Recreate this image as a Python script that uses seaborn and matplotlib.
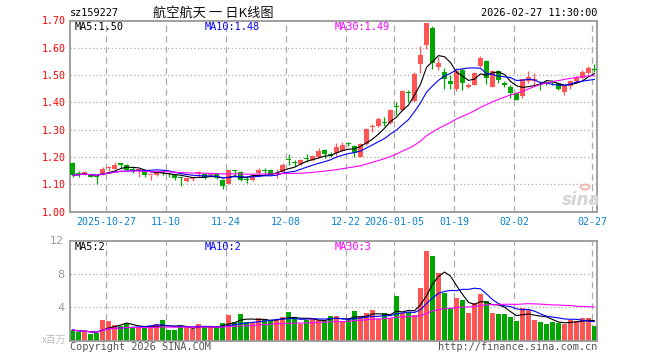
import numpy as np
import pandas as pd
import matplotlib
matplotlib.use("Agg")
import matplotlib.pyplot as plt
from matplotlib.patches import Circle
import seaborn as sns

# ---------------- data ----------------
opens = [1.178, 1.140, 1.139, 1.137, 1.132, 1.137, 1.158, 1.156, 1.174, 1.172,
         1.153, 1.150, 1.151, 1.132, 1.133, 1.144, 1.139, 1.134, 1.123, 1.110,
         1.118, 1.139, 1.138, 1.134, 1.137, 1.115, 1.102, 1.150, 1.146, 1.116,
         1.115, 1.140, 1.151, 1.152, 1.138, 1.146, 1.191, 1.178, 1.175, 1.193,
         1.188, 1.200, 1.224, 1.212, 1.216, 1.223, 1.249, 1.240, 1.201, 1.248,
         1.310, 1.314, 1.326, 1.326, 1.385, 1.373, 1.436, 1.404, 1.539, 1.612,
         1.671, 1.529, 1.513, 1.480, 1.450, 1.520, 1.457, 1.465, 1.535, 1.553,
         1.457, 1.515, 1.472, 1.457, 1.435, 1.425, 1.478, 1.477, 1.466, 1.473,
         1.474, 1.472, 1.437, 1.459, 1.478, 1.490, 1.506, 1.520]
highs = [1.181, 1.147, 1.147, 1.140, 1.135, 1.163, 1.165, 1.180, 1.176, 1.174,
         1.162, 1.156, 1.153, 1.135, 1.146, 1.149, 1.141, 1.137, 1.125, 1.124,
         1.128, 1.149, 1.140, 1.141, 1.140, 1.118, 1.153, 1.152, 1.148, 1.126,
         1.132, 1.160, 1.160, 1.155, 1.155, 1.177, 1.212, 1.190, 1.192, 1.210,
         1.206, 1.231, 1.228, 1.218, 1.250, 1.254, 1.256, 1.244, 1.250, 1.305,
         1.321, 1.345, 1.348, 1.375, 1.400, 1.445, 1.444, 1.510, 1.605, 1.690,
         1.680, 1.567, 1.527, 1.500, 1.526, 1.525, 1.470, 1.512, 1.570, 1.556,
         1.518, 1.517, 1.480, 1.465, 1.437, 1.484, 1.515, 1.506, 1.478, 1.480,
         1.482, 1.475, 1.462, 1.482, 1.498, 1.520, 1.535, 1.540]
lows = [1.125, 1.125, 1.132, 1.125, 1.102, 1.135, 1.148, 1.154, 1.159, 1.150,
        1.141, 1.127, 1.125, 1.116, 1.131, 1.133, 1.125, 1.116, 1.095, 1.108,
        1.110, 1.128, 1.118, 1.125, 1.118, 1.081, 1.100, 1.128, 1.112, 1.105,
        1.112, 1.138, 1.138, 1.132, 1.124, 1.144, 1.171, 1.165, 1.172, 1.180,
        1.185, 1.196, 1.195, 1.199, 1.205, 1.220, 1.240, 1.201, 1.198, 1.245,
        1.290, 1.310, 1.312, 1.322, 1.355, 1.370, 1.400, 1.400, 1.508, 1.595,
        1.523, 1.518, 1.449, 1.448, 1.443, 1.447, 1.452, 1.462, 1.530, 1.468,
        1.455, 1.472, 1.455, 1.416, 1.408, 1.416, 1.472, 1.465, 1.447, 1.462,
        1.463, 1.447, 1.428, 1.450, 1.470, 1.485, 1.503, 1.512]
closes = [1.132, 1.138, 1.141, 1.128, 1.125, 1.156, 1.160, 1.172, 1.172, 1.153,
          1.151, 1.152, 1.135, 1.134, 1.143, 1.142, 1.137, 1.122, 1.121, 1.122,
          1.120, 1.141, 1.122, 1.137, 1.121, 1.093, 1.152, 1.148, 1.115, 1.114,
          1.130, 1.152, 1.149, 1.134, 1.141, 1.171, 1.189, 1.176, 1.190, 1.191,
          1.203, 1.221, 1.209, 1.203, 1.238, 1.244, 1.247, 1.216, 1.247, 1.302,
          1.314, 1.339, 1.323, 1.371, 1.382, 1.440, 1.434, 1.505, 1.572, 1.690,
          1.545, 1.545, 1.484, 1.466, 1.515, 1.472, 1.465, 1.508, 1.562, 1.490,
          1.515, 1.481, 1.464, 1.435, 1.410, 1.484, 1.494, 1.486, 1.464, 1.471,
          1.471, 1.449, 1.459, 1.478, 1.494, 1.511, 1.527, 1.517]
volumes = [1.28, 1.08, 1.08, 0.80, 0.88, 2.48, 2.36, 1.88, 1.76, 2.08,
           1.68, 1.48, 1.48, 1.68, 2.00, 2.48, 1.28, 1.28, 1.88, 1.60,
           1.36, 2.00, 1.60, 1.60, 1.60, 2.16, 3.08, 2.28, 3.20, 2.20,
           2.20, 2.76, 2.48, 2.48, 2.48, 2.84, 3.44, 2.68, 2.00, 2.48,
           2.68, 2.48, 2.40, 2.96, 2.96, 2.28, 2.48, 3.56, 2.96, 3.36,
           3.68, 2.56, 3.36, 2.68, 5.36, 3.28, 3.48, 3.08, 6.32, 10.76,
           10.20, 8.12, 5.72, 3.88, 5.12, 4.88, 3.36, 4.48, 5.60, 4.76,
           3.36, 3.20, 3.20, 2.88, 2.40, 3.88, 3.68, 2.48, 2.28, 2.00,
           2.28, 2.16, 2.00, 2.48, 2.40, 2.68, 2.68, 1.76]
tick_labels = ["2025-10-27", "11-10", "11-24", "12-08", "12-22",
               "2026-01-05", "01-19", "02-02", "02-27"]
tick_index = [6, 16, 26, 36, 46, 54, 64, 74, 87]
price_ticks = [1.00, 1.10, 1.20, 1.30, 1.40, 1.50, 1.60, 1.70]
vol_ticks = [4, 8, 12]
ma_windows = [5, 10, 30]
price_ma_labels = ["1.50", "1.48", "1.49"]
vol_ma_labels = ["2", "2", "3"]

# ---------------- styling ----------------
sns.set_theme(style="white")
plt.rcParams['font.family'] = ['DejaVu Sans', 'Noto Sans CJK SC']
MONO = ['DejaVu Sans Mono', 'Noto Sans CJK SC']
CJK = ['Noto Sans CJK SC', 'DejaVu Sans']
RED = '#ff5555'
GREEN = '#00a600'
GRID = '#aaaaaa'
SPINE = '#999999'
MA_COLORS = ['#000000', '#0000ff', '#ff00ff']

W, H = 660, 360
fig = plt.figure(figsize=(6.6, 3.6), dpi=100)
fig.patch.set_facecolor('white')


def rect(l, t, r, b):
    return [l / W, 1 - b / H, (r - l) / W, (b - t) / H]


ax1 = fig.add_axes(rect(70, 20.5, 597, 211.5))
ax2 = fig.add_axes(rect(70, 240.5, 597, 340.7))

df = pd.DataFrame({'idx': np.arange(len(closes)), 'open': opens, 'high': highs,
                   'low': lows, 'close': closes, 'vol': volumes})
df['dir'] = np.where(df['close'] >= df['open'], 'up', 'down')
colors = np.where(df['dir'] == 'up', RED, GREEN)
for w in ma_windows:
    df[f'ma{w}'] = df['close'].rolling(w, min_periods=1).mean()
    df[f'vma{w}'] = df['vol'].rolling(w, min_periods=1).mean()

xlim = (-0.42, len(closes) - 1 + 0.42)

# ---------------- grids ----------------
for ax in (ax1, ax2):
    for t in tick_index:
        ax.axvline(t - 0.4, color=GRID, lw=0.9, linestyle=(0, (5, 3.5)), zorder=0)
for p in price_ticks[1:-1]:
    ax1.axhline(p, color=GRID, lw=0.9, linestyle=(0, (1, 2)), zorder=0)
for v in vol_ticks[:-1]:
    ax2.axhline(v, color=GRID, lw=0.9, linestyle=(0, (1, 2)), zorder=0)

# ---------------- candles ----------------
ax1.vlines(df['idx'], df['low'], df['high'], colors=colors, lw=0.9, zorder=2)
body = np.maximum((df['close'] - df['open']).abs(), 0.004)
ax1.bar(df['idx'], body, bottom=np.minimum(df['open'], df['close']),
        width=0.8, color=colors, linewidth=0, zorder=3)
for w, c in zip(ma_windows, MA_COLORS):
    sns.lineplot(x=df['idx'], y=df[f'ma{w}'], color=c, lw=0.8, ax=ax1,
                 legend=False, zorder=4)

# ---------------- volume ----------------
sns.barplot(x=df['idx'], y=df['vol'], hue=df['dir'],
            palette={'up': RED, 'down': GREEN}, native_scale=True,
            width=0.85, saturation=1, dodge=False, errorbar=None,
            legend=False, ax=ax2, zorder=2, linewidth=0)
for w, c in zip(ma_windows, MA_COLORS):
    sns.lineplot(x=df['idx'], y=df[f'vma{w}'], color=c, lw=0.8, ax=ax2,
                 legend=False, zorder=4)

# ---------------- axes ----------------
ax1.set_xlim(*xlim)
ax1.set_ylim(price_ticks[0], price_ticks[-1])
ax2.set_xlim(*xlim)
ax2.set_ylim(0, vol_ticks[-1])
for ax in (ax1, ax2):
    ax.set_xlabel('')
    ax.set_ylabel('')
    ax.set_facecolor('white')
    for s in ax.spines.values():
        s.set_color(SPINE)
        s.set_linewidth(1.3)
        s.set_visible(True)

ax1.set_xticks([t - 0.4 for t in tick_index])
ax1.set_xticklabels(tick_labels, family=MONO, fontsize=7.2, color='#0a84d0')
ax1.set_yticks(price_ticks)
ax1.set_yticklabels([f'{p:.2f}' for p in price_ticks], family=MONO,
                    fontsize=7.2, color='#ff0000')
ax1.tick_params(axis='both', length=0)
ax1.tick_params(axis='x', pad=4)
ax1.tick_params(axis='y', pad=3)

ax2.set_xticks([])
ax2.set_yticks(vol_ticks)
ax2.set_yticklabels([str(v) for v in vol_ticks], fontsize=8, color='#999999')
ax2.tick_params(axis='y', length=0, pad=4)


def fig_text(x, y, s, **kw):
    fig.text(x / W, 1 - y / H, s, **kw)


# ---------------- texts ----------------
fig_text(70, 13, 'sz159227', ha='left', va='center', family=MONO,
         fontsize=7.4, color='#000000')
fig_text(213, 13, '航空航天 一 日K线图', ha='center', va='center', family=CJK,
         fontsize=9.5, color='#111111')
fig_text(597, 13, '2026-02-27 11:30:00', ha='right', va='center', family=MONO,
         fontsize=7.4, color='#000000')

xs = [75, 205, 335]
for x, w, c, pl, vl in zip(xs, ma_windows, MA_COLORS, price_ma_labels, vol_ma_labels):
    fig_text(x, 26.5, f'MA{w}:{pl}', ha='left', va='center', family=MONO,
             fontsize=7.4, color=c)
    fig_text(x, 246.5, f'MA{w}:{vl}', ha='left', va='center', family=MONO,
             fontsize=7.4, color=c)

fig_text(66, 340, 'x百万', ha='right', va='center', family=CJK,
         fontsize=7, color='#bbbbbb')
fig_text(70, 347, 'Copyright 2026 SINA.COM', ha='left', va='center',
         family=MONO, fontsize=7.4, color='#555555')
fig_text(597, 347, 'http://finance.sina.com.cn', ha='right', va='center',
         family=MONO, fontsize=7.4, color='#555555')

# sina watermark
fig_text(581, 200, 'sina', ha='center', va='center', fontsize=12,
         fontweight='bold', style='italic', color='#d4d4d4')
fig.patches.append(Circle((585 / W, 1 - 187 / H), 4.5 / W, transform=fig.transFigure,
                          facecolor='none', edgecolor='#f2b8b8', lw=1.5,
                          figure=fig))

fig.savefig('out.png', dpi=100, facecolor='white')
